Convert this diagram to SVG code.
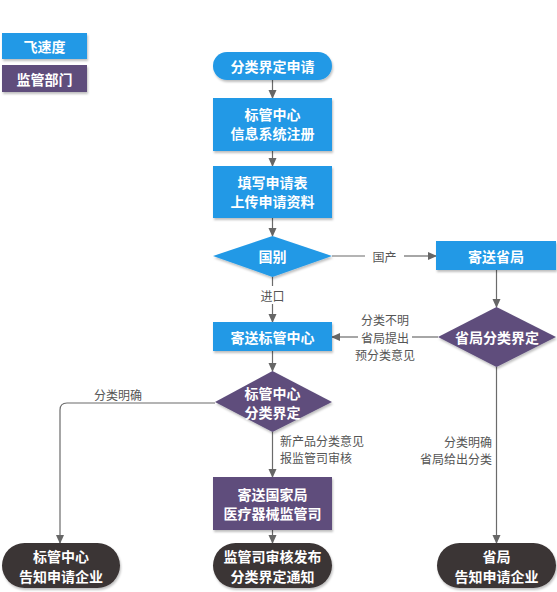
<svg xmlns="http://www.w3.org/2000/svg" width="557" height="592" viewBox="0 0 557 592">
<defs>
<style>
.blue{fill:#2299e6;}
.purple{fill:#5e4e7c;}
.dark{fill:#3b3434;}
.nt{font-family:"Noto Sans CJK SC","Noto Sans",sans-serif;font-size:14px;font-weight:bold;fill:#ffffff;text-anchor:middle;dominant-baseline:central;}
.lb{font-family:"Noto Sans CJK SC","Noto Sans",sans-serif;font-size:12px;fill:#555555;dominant-baseline:central;}
.ln{fill:none;stroke:#6b6b6b;stroke-width:1.2;}
</style>
<marker id="ah" markerWidth="10" markerHeight="10" refX="8" refY="5" orient="auto" markerUnits="userSpaceOnUse">
<path d="M0,1 L9,5 L0,9 z" fill="#666666"/>
</marker>
<filter id="sh" x="-10%" y="-10%" width="130%" height="140%">
<feDropShadow dx="1" dy="2" stdDeviation="1.2" flood-color="#000000" flood-opacity="0.25"/>
</filter>
</defs>
<rect width="557" height="592" fill="#ffffff"/>

<g id="legend-blue"><rect class="blue" x="2" y="33" width="85" height="26" filter="url(#sh)"/><text class="nt" x="44.5" y="46">飞速度</text></g>
<g id="legend-purple"><rect class="purple" x="2" y="65" width="85" height="27" filter="url(#sh)"/><text class="nt" x="44.5" y="78.5">监管部门</text></g>

<g id="connectors">
<line class="ln" x1="272.5" y1="80" x2="272.5" y2="98" marker-end="url(#ah)"/>
<line class="ln" x1="272.5" y1="151" x2="272.5" y2="166" marker-end="url(#ah)"/>
<line class="ln" x1="272.5" y1="218" x2="272.5" y2="236" marker-end="url(#ah)"/>
<line class="ln" x1="332" y1="256" x2="365" y2="256"/>
<line class="ln" x1="404" y1="256" x2="436" y2="256" marker-end="url(#ah)"/>
<text class="lb" x="384.5" y="256" text-anchor="middle">国产</text>
<line class="ln" x1="272.5" y1="277" x2="272.5" y2="286"/>
<line class="ln" x1="272.5" y1="304" x2="272.5" y2="322" marker-end="url(#ah)"/>
<text class="lb" x="272.5" y="295" text-anchor="middle">进口</text>
<line class="ln" x1="496.5" y1="270" x2="496.5" y2="307" marker-end="url(#ah)"/>
<line class="ln" x1="438" y1="337" x2="412" y2="337"/>
<line class="ln" x1="358" y1="337" x2="332" y2="337" marker-end="url(#ah)"/>
<text class="lb" x="385" y="319" text-anchor="middle">分类不明</text>
<text class="lb" x="385" y="337" text-anchor="middle">省局提出</text>
<text class="lb" x="385" y="354" text-anchor="middle">预分类意见</text>
<line class="ln" x1="496.5" y1="367" x2="496.5" y2="543" marker-end="url(#ah)"/>
<text class="lb" x="492" y="441" text-anchor="end">分类明确</text>
<text class="lb" x="492" y="458" text-anchor="end">省局给出分类</text>
<line class="ln" x1="272.5" y1="351" x2="272.5" y2="371" marker-end="url(#ah)"/>
<path class="ln" d="M215,403 L67,403 Q60,403 60,410 L60,543" marker-end="url(#ah)"/>
<text class="lb" x="118" y="394" text-anchor="middle">分类明确</text>
<line class="ln" x1="272.5" y1="432" x2="272.5" y2="477" marker-end="url(#ah)"/>
<text class="lb" x="280" y="440">新产品分类意见</text>
<text class="lb" x="280" y="457">报监管司审核</text>
<line class="ln" x1="272.5" y1="530" x2="272.5" y2="543" marker-end="url(#ah)"/>
</g>

<g id="start"><rect class="blue" x="213" y="52" width="119" height="28" rx="14" filter="url(#sh)"/><text class="nt" x="272.5" y="66">分类界定申请</text></g>
<g id="register"><rect class="blue" x="213" y="98" width="119" height="53" filter="url(#sh)"/><text class="nt" x="272.5" y="114">标管中心</text><text class="nt" x="272.5" y="133">信息系统注册</text></g>
<g id="fill"><rect class="blue" x="213" y="166" width="119" height="52" filter="url(#sh)"/><text class="nt" x="272.5" y="182">填写申请表</text><text class="nt" x="272.5" y="201">上传申请资料</text></g>
<g id="country"><polygon class="blue" points="213,256 272.5,236 332,256 272.5,277" filter="url(#sh)"/><text class="nt" x="272.5" y="256">国别</text></g>
<g id="send-province"><rect class="blue" x="436" y="241" width="120" height="29" filter="url(#sh)"/><text class="nt" x="496" y="255.5">寄送省局</text></g>
<g id="province-classify"><polygon class="purple" points="438,337 496.5,307 556,337 496.5,367" filter="url(#sh)"/><text class="nt" x="497" y="337">省局分类界定</text></g>
<g id="send-center"><rect class="blue" x="213" y="322" width="119" height="29" filter="url(#sh)"/><text class="nt" x="272.5" y="336.5">寄送标管中心</text></g>
<g id="center-classify"><polygon class="purple" points="215,402 272.5,371 332,402 272.5,432" filter="url(#sh)"/><text class="nt" x="272.5" y="392.5">标管中心</text><text class="nt" x="272.5" y="411.5">分类界定</text></g>
<g id="send-national"><rect class="purple" x="213" y="477" width="119" height="53" filter="url(#sh)"/><text class="nt" x="272.5" y="493.5">寄送国家局</text><text class="nt" x="272.5" y="512.5">医疗器械监管司</text></g>
<g id="center-notify"><rect class="dark" x="2" y="543" width="118" height="45" rx="22.5" filter="url(#sh)"/><text class="nt" x="61" y="556">标管中心</text><text class="nt" x="61" y="576">告知申请企业</text></g>
<g id="national-notify"><rect class="dark" x="213" y="543" width="119" height="45" rx="22.5" filter="url(#sh)"/><text class="nt" x="272.5" y="556">监管司审核发布</text><text class="nt" x="272.5" y="576">分类界定通知</text></g>
<g id="province-notify"><rect class="dark" x="437" y="543" width="119" height="45" rx="22.5" filter="url(#sh)"/><text class="nt" x="496.5" y="556">省局</text><text class="nt" x="496.5" y="576">告知申请企业</text></g>
</svg>
